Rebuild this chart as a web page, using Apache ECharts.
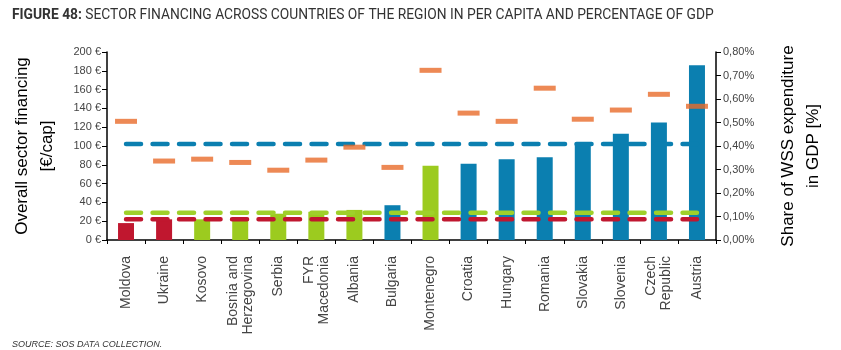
<!DOCTYPE html>
<html>
<head>
<meta charset="utf-8">
<script src="https://cdn.jsdelivr.net/npm/echarts@6/dist/echarts.min.js"></script>
<style>
  html, body { margin: 0; padding: 0; background: #fff; }
  #chart { width: 841px; height: 350px; }
</style>
</head>
<body>
<div id="chart"></div>
<script>
// countries
const categories = [
  'Moldova', 'Ukraine', 'Kosovo', 'Bosnia and\nHerzegovina', 'Serbia', 'FYR\nMacedonia',
  'Albania', 'Bulgaria', 'Montenegro', 'Croatia', 'Hungary', 'Romania',
  'Slovakia', 'Slovenia', 'Czech\nRepublic', 'Austria'
];
// per capita financing, €/cap
const perCapita = [18, 22, 22, 24, 28, 30, 32, 37, 79, 81, 86, 88, 103, 113, 125, 186];
// group of each country: 0 = red, 1 = green, 2 = blue
const groups = [0, 0, 1, 1, 1, 1, 1, 2, 1, 2, 2, 2, 2, 2, 2, 2];
// share of GDP, %
const shareGdp = [0.505, 0.336, 0.344, 0.33, 0.297, 0.34, 0.395, 0.309, 0.722, 0.54, 0.505, 0.646, 0.514, 0.553, 0.62, 0.569];
// group averages, €/cap (dashed lines)
const avgBlue = 102;
const avgGreen = 29;
const avgRed = 22;
const leftTicks = [0, 20, 40, 60, 80, 100, 120, 140, 160, 180, 200];
const rightTicks = [0, 0.1, 0.2, 0.3, 0.4, 0.5, 0.6, 0.7, 0.8];

const groupColors = ['#c0172f', '#9ccb1f', '#0b7fb0'];
const orange = '#e96b2b';

var chart = echarts.init(document.getElementById('chart'));

function flatLine(v) {
  return categories.map(function () { return v; });
}

function dashSeries(name, v, color) {
  return {
    name: name,
    type: 'line',
    data: flatLine(v),
    symbol: 'none',
    silent: true,
    z: 3,
    lineStyle: { color: color, width: 4.5, type: [15, 11.5], cap: 'round' }
  };
}

var option = {
  animation: false,
  textStyle: { fontFamily: 'Liberation Sans, Arial, sans-serif' },
  title: [
    {
      text: '{b|FIGURE 48:} SECTOR FINANCING ACROSS COUNTRIES OF THE REGION IN PER CAPITA AND PERCENTAGE OF GDP',
      left: 7, top: 4,
      textStyle: {
        fontFamily: 'Roboto', fontSize: 13.8, fontWeight: 'normal', color: '#333',
        rich: { b: { fontFamily: 'Roboto', fontSize: 13.8, fontWeight: 'bold', color: '#333' } }
      }
    },
    {
      text: 'SOURCE: SOS DATA COLLECTION.',
      left: 7, top: 335,
      textStyle: { fontFamily: 'Liberation Sans', fontSize: 9, fontStyle: 'italic', fontWeight: 'normal', color: '#333' }
    }
  ],
  grid: { left: 107, right: 125, top: 52, bottom: 110 },
  xAxis: {
    type: 'category',
    data: categories,
    axisLine: { lineStyle: { color: '#000', width: 1.5 } },
    axisTick: { show: true, length: 4, lineStyle: { color: '#000' } },
    axisLabel: {
      rotate: 90, interval: 0, margin: 16,
      fontSize: 14, lineHeight: 15, color: '#444'
    }
  },
  yAxis: [
    {
      type: 'value',
      min: leftTicks[0], max: leftTicks[leftTicks.length - 1], interval: 20,
      name: 'Overall sector financing\n[€/cap]',
      nameLocation: 'middle', nameRotate: 90, nameGap: 47,
      nameTextStyle: { fontSize: 17, lineHeight: 25, color: '#000' },
      axisLine: { show: true, lineStyle: { color: '#000', width: 1.5 } },
      axisTick: { show: true, length: 5, lineStyle: { color: '#000' } },
      splitLine: { show: false },
      axisLabel: { fontSize: 11, color: '#444', margin: 6, formatter: function (v) { return v + ' €'; } }
    },
    {
      type: 'value',
      position: 'right',
      min: rightTicks[0], max: rightTicks[rightTicks.length - 1], interval: 0.1,
      name: 'Share of WSS expenditure\nin GDP [%]',
      nameLocation: 'middle', nameRotate: 90, nameGap: 60,
      nameTextStyle: { fontSize: 17, lineHeight: 25, color: '#000' },
      axisLine: { show: true, lineStyle: { color: '#000', width: 1.5 } },
      axisTick: { show: true, length: 5, lineStyle: { color: '#000' } },
      splitLine: { show: false },
      axisLabel: {
        fontSize: 11, color: '#444', margin: 7,
        formatter: function (v) { return v.toFixed(2).replace('.', ',') + '%'; }
      }
    }
  ],
  series: [
    {
      name: 'Per capita',
      type: 'bar',
      barWidth: 16,
      z: 2,
      data: perCapita.map(function (v, i) {
        return { value: v, itemStyle: { color: groupColors[groups[i]] } };
      })
    },
    dashSeries('Blue average', avgBlue, groupColors[2]),
    dashSeries('Green average', avgGreen, '#9fd02a'),
    dashSeries('Red average', avgRed, groupColors[0]),
    {
      name: 'Share of GDP',
      type: 'scatter',
      yAxisIndex: 1,
      symbol: 'rect',
      symbolSize: [22, 5],
      z: 4,
      itemStyle: { color: orange },
      data: shareGdp
    }
  ]
};
chart.setOption(option);
</script>
</body>
</html>
